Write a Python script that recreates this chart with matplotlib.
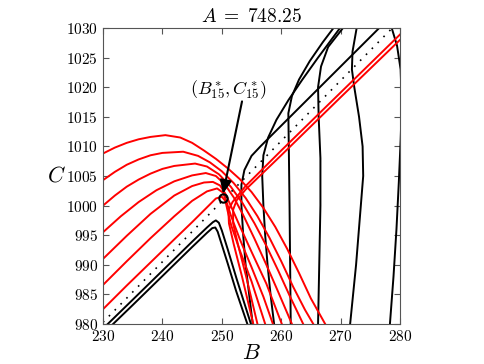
import numpy as np
import matplotlib
matplotlib.use('Agg')
import matplotlib.pyplot as plt

plt.rcParams['mathtext.fontset'] = 'cm'
plt.rcParams['font.family'] = 'serif'
plt.rcParams['font.serif'] = ['cmr10', 'DejaVu Serif']
plt.rcParams['axes.formatter.use_mathtext'] = True

A_value = '748.25'

# red trajectories coming in from the left edge (B, C)
red_left = [
    ([230, 232, 234, 236, 238, 240.5, 243, 245, 247, 249, 251, 253, 255, 257, 259, 261, 263, 265, 267.4],
     [1008.8, 1009.8, 1010.6, 1011.2, 1011.6, 1011.9, 1011.5, 1010.6, 1009.3, 1007.9, 1006.3, 1004.5, 1002.3, 999.6, 996.4, 992.7, 988.6, 984.3, 980]),
    ([230, 232, 234, 236, 238, 240, 243.5, 246, 248, 250, 252, 254, 256, 258, 260, 262, 264, 265.4],
     [1004.3, 1005.7, 1006.9, 1007.8, 1008.5, 1008.9, 1009.1, 1008.4, 1007.3, 1005.8, 1003.8, 1001.3, 998.2, 994.6, 990.6, 986.3, 982.4, 980]),
    ([230, 232, 234, 236, 238, 240, 242, 245.5, 247.5, 249.5, 251.5, 253.5, 255.5, 257.5, 259.5, 261.5, 263.7],
     [1000.0, 1001.7, 1003.2, 1004.4, 1005.4, 1006.2, 1006.7, 1007.1, 1006.6, 1005.3, 1003.2, 1000.4, 997.0, 993.2, 989.0, 984.6, 980]),
    ([230, 233, 236, 239, 242, 245, 247.3, 249, 250.5, 252, 253.5, 255.5, 257.5, 259.5, 261.8],
     [995.5, 998.2, 1000.6, 1002.6, 1004.1, 1005.1, 1005.5, 1005.0, 1003.6, 1001.4, 998.6, 994.4, 990.0, 985.4, 980]),
    ([230, 234, 238, 242, 245, 247, 248.5, 249.7, 250.6, 251.5, 253, 255, 257.5, 260.1],
     [991.0, 994.9, 998.6, 1001.7, 1003.3, 1003.9, 1004.0, 1003.4, 1002.0, 1000.0, 996.6, 992.2, 986.8, 980]),
    ([230, 234, 238, 242, 245, 247.5, 249.2, 250.2, 250.8, 251.5, 253, 255, 257, 258.6],
     [986.6, 990.6, 994.5, 998.2, 1000.8, 1002.4, 1002.9, 1002.2, 1000.6, 998.4, 994.4, 989.6, 984.6, 980]),
    ([230, 234, 238, 242, 245, 247.5, 249, 250, 250.6, 251.0, 251.6, 253, 255, 257.3],
     [982.5, 986.5, 990.4, 994.3, 997.2, 999.7, 1001.2, 1001.5, 1000.8, 999.0, 996.6, 992.5, 987.2, 980]),
]

# red pair coming down from the upper right
red_diag = [
    ([280, 270, 260, 254, 251.8, 251.1, 251.2, 252, 253.4, 255.3],
     [1028.9, 1019.1, 1009.3, 1003.3, 1000.6, 999.2, 997.0, 993.5, 988.0, 980]),
    ([280, 270, 260, 254, 252.5, 251.9, 251.9, 252.7, 254.1, 256.0],
     [1028.0, 1018.3, 1008.5, 1002.7, 1000.9, 999.3, 997.0, 993.5, 988.0, 980]),
]

# black pair below the dotted line
black_low = [
    ([230.8, 235, 240, 245, 247.5, 248.5, 249.0, 249.5, 250, 251, 252.5, 254.9],
     [980, 984.1, 989.0, 993.9, 996.3, 997.2, 997.5, 997.1, 995.8, 992.6, 987.6, 980]),
    ([231.7, 235, 240, 245, 247.5, 248.4, 248.9, 249.3, 249.9, 251, 252.4, 254.3],
     [980, 983.2, 988.1, 993.0, 995.4, 996.2, 996.3, 995.6, 993.7, 990.2, 985.6, 980]),
]

# black trajectories rising from the bottom edge
black_up = [
    ([255.2, 254.6, 254.0, 253.6, 253.3, 253.3, 253.8, 255, 256.5, 258.5, 262, 266, 270, 276.5],
     [980, 985, 990, 995, 1000, 1003.5, 1006, 1008.4, 1010, 1012, 1015.5, 1019.5, 1023.5, 1030]),
    ([258.8, 258.2, 257.7, 257.3, 257.0, 256.8, 257.0, 257.8, 259.2, 261.2, 263.5, 266.2, 269.9],
     [980, 985, 990, 995, 1000, 1005, 1008.5, 1011.5, 1014.5, 1017.8, 1021.2, 1025, 1030]),
    ([261.6, 261.5, 261.4, 261.3, 261.2, 261.8, 263.0, 264.8, 267.0, 268.8],
     [980, 990, 1000, 1008, 1015.6, 1018.5, 1021.3, 1024.4, 1027.6, 1030]),
    ([266.2, 266.4, 266.6, 266.6, 266.3, 266.2, 266.7, 267.9, 270.4],
     [980, 990, 1000, 1008, 1015, 1020, 1023.5, 1026.8, 1030]),
    ([271.6, 272.6, 273.4, 273.8, 273.7, 273.1, 272.3, 271.9, 272.0, 272.7],
     [980, 990, 1000, 1005, 1010, 1015, 1020, 1023, 1026, 1030]),
    ([278.3, 278.9, 279.4, 279.8, 280.1, 280.3, 280.1, 279.5, 278.6],
     [980, 988, 996, 1004, 1011, 1017, 1023, 1027, 1030]),
]

dotted_B = [230, 278.7]
dotted_C = [980.3, 1030]

point_B, point_C = 250.2, 1001.3
label_B, label_C = 251.2, 1019.6
arrow_tail = (253.4, 1017.6)

fig = plt.figure(figsize=(4.85, 3.64), dpi=100)
ax = fig.add_axes([0.2124, 0.1099, 0.6124, 0.8132])

lw = 1.4
for b, c in black_low + black_up:
    ax.plot(b, c, color='black', linewidth=lw)
for b, c in red_left + red_diag:
    ax.plot(b, c, color='red', linewidth=lw)
ax.plot(dotted_B, dotted_C, color='black', linestyle=(0, (1, 4)), linewidth=1.2)

ax.plot([point_B], [point_C], 'o', markersize=6, markerfacecolor='none',
        markeredgecolor='black', markeredgewidth=1.5)
ax.annotate('', xy=(point_B, point_C + 0.7), xytext=arrow_tail,
            arrowprops=dict(arrowstyle='-|>,head_length=0.8,head_width=0.35',
                            color='black', linewidth=1.5, shrinkA=0, shrinkB=0))
ax.text(label_B, label_C, r'$(B^*_{15},C^*_{15})$', fontsize=13,
        ha='center', va='center')

ax.set_xlim(230, 280)
ax.set_ylim(980, 1030)
ax.set_xticks(np.arange(230, 281, 10))
ax.set_yticks(np.arange(980, 1031, 5))
ax.tick_params(direction='in', top=True, right=True, length=4, labelsize=11,
               color='#555555')
for s in ax.spines.values():
    s.set_color('#555555')
    s.set_linewidth(0.8)

ax.set_title(r'$A\;=\;%s$' % A_value, fontsize=14, pad=4)
ax.set_xlabel(r'$B$', fontsize=16, labelpad=0)
ax.set_ylabel(r'$C$', fontsize=16, rotation=0, labelpad=7, va='center')

plt.savefig('out.png', dpi=100)
